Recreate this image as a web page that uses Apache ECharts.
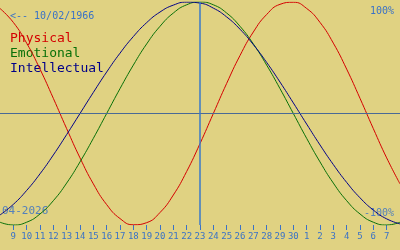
<!DOCTYPE html>
<html>
<head>
<meta charset="utf-8">
<script src="https://cdn.jsdelivr.net/npm/echarts@6/dist/echarts.min.js"></script>
<style>
html,body{margin:0;padding:0;background:#e0d282;}
#chart{width:400px;height:250px;}
</style>
</head>
<body>
<div id="chart"></div>
<script>
// Days shown: Apr 8 2026 .. May 8 2026 (center = Apr 23)
var dayLabels = ['8','9','10','11','12','13','14','15','16','17','18','19','20','21','22','23','24','25','26','27','28','29','30','1','2','3','4','5','6','7','8'];
var physical = [0.942,0.817,0.631,0.398,0.136,-0.136,-0.398,-0.631,-0.817,-0.942,-0.998,-0.979,-0.888,-0.731,-0.520,-0.270,0,0.270,0.520,0.731,0.888,0.979,0.998,0.942,0.817,0.631,0.398,0.136,-0.136,-0.398,-0.631];
var emotional = [-0.975,-1,-0.975,-0.901,-0.782,-0.624,-0.434,-0.223,0,0.223,0.434,0.624,0.782,0.901,0.975,1,0.975,0.901,0.782,0.624,0.434,0.223,0,-0.223,-0.434,-0.624,-0.782,-0.901,-0.975,-1,-0.975];
var intellectual = [-0.910,-0.815,-0.690,-0.541,-0.372,-0.189,0,0.189,0.372,0.541,0.690,0.815,0.910,0.972,0.999,0.990,0.945,0.866,0.756,0.618,0.458,0.282,0.095,-0.095,-0.282,-0.458,-0.618,-0.756,-0.866,-0.945,-0.990];
var centerIndex = 15;
var birthText = '<-- 10/02/1966';
var monthText = '04-2026';
var seriesNames = ['Physical','Emotional','Intellectual'];
var seriesColors = ['#d40000','#087008','#000088'];

var chart = echarts.init(document.getElementById('chart'), null, {renderer:'canvas'});
var showTick = function(i){ return i > 0 && i < dayLabels.length - 1; };
var mono = 'DejaVu Sans Mono';
var blue = '#3a72c6';
chart.setOption({
  backgroundColor: '#e0d282',
  animation: false,
  grid: {left: 0, right: 0, top: 2, bottom: 25, containLabel: false},
  xAxis: {
    type: 'category', data: dayLabels, boundaryGap: false,
    axisLine: {show: false, onZero: false},
    axisTick: {show: true, interval: showTick, length: 5, lineStyle: {color: blue, width: 1}},
    axisLabel: {interval: showTick, color: blue, fontFamily: mono, fontSize: 9, margin: 7},
    splitLine: {show: false}
  },
  yAxis: {type: 'value', min: -1, max: 1, show: false},
  graphic: [
    {type:'text', left: 10, top: 11, style:{text: birthText, fill: blue, font: '10px "DejaVu Sans Mono"'}},
    {type:'text', left: 10, top: 32, style:{text: seriesNames[0], fill: seriesColors[0], font: '13px "DejaVu Sans Mono"'}},
    {type:'text', left: 10, top: 47, style:{text: seriesNames[1], fill: seriesColors[1], font: '13px "DejaVu Sans Mono"'}},
    {type:'text', left: 10, top: 62, style:{text: seriesNames[2], fill: seriesColors[2], font: '13px "DejaVu Sans Mono"'}},
    {type:'text', right: 6, top: 6, style:{text: '100%', fill: blue, font: '10px "DejaVu Sans Mono"'}},
    {type:'text', right: 6, top: 208, style:{text: '-100%', fill: 'rgba(58,114,198,0.85)', font: '10px "DejaVu Sans Mono"'}},
    {type:'text', left: 2, top: 206, style:{text: monthText, fill: 'rgba(58,114,198,0.85)', font: '11px "DejaVu Sans Mono"'}}
  ],
  series: [
    {name: seriesNames[0], type: 'line', data: physical, smooth: true, showSymbol: false,
     lineStyle: {color: seriesColors[0], width: 1}, z: 3,
     markLine: {silent: true, symbol: 'none', label: {show: false},
       data: [
         {yAxis: 0, lineStyle: {color: '#4a6a96', width: 1, type: 'solid'}},
         {xAxis: centerIndex, lineStyle: {color: '#3a78c8', width: 1.5, type: 'solid'}}
       ]}},
    {name: seriesNames[1], type: 'line', data: emotional, smooth: true, showSymbol: false,
     lineStyle: {color: seriesColors[1], width: 1}, z: 3},
    {name: seriesNames[2], type: 'line', data: intellectual, smooth: true, showSymbol: false,
     lineStyle: {color: seriesColors[2], width: 1}, z: 3}
  ]
});
</script>
</body>
</html>
